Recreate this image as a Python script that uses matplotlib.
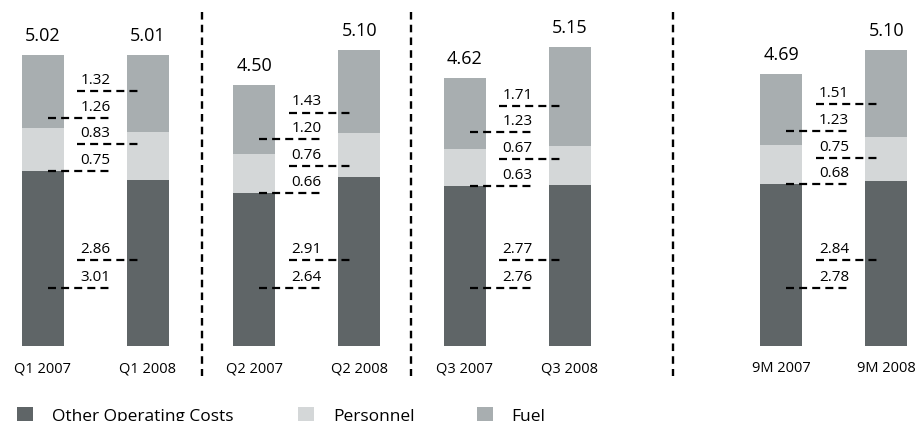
import matplotlib.pyplot as plt
from matplotlib.patches import Rectangle

plt.rcParams['font.family'] = ['Open Sans', 'DejaVu Sans']

# unit costs per period, stacked bottom to top
periods = ['Q1', 'Q2', 'Q3', '9M']
years = ['2007', '2008']
other = [[3.01, 2.86], [2.64, 2.91], [2.76, 2.77], [2.78, 2.84]]
personnel = [[0.75, 0.83], [0.66, 0.76], [0.63, 0.67], [0.68, 0.75]]
fuel = [[1.26, 1.32], [1.20, 1.43], [1.23, 1.71], [1.23, 1.51]]
totals = [[5.02, 5.01], [4.50, 5.10], [4.62, 5.15], [4.69, 5.10]]

c_other = '#5f6567'
c_pers = '#d4d7d8'
c_fuel = '#a8aeb0'

W, H = 920, 421
base = 345.7      # pixel row of the zero line
scale = 58.0      # pixels per unit
group_centers = [95.5, 306.7, 517.5, 834]
half_gap = 52.5
bar_w = 42
separators = [202.5, 411, 673]


def py(p):
    # pixel row (from top) -> data y
    return (base - p) / scale


fig = plt.figure(figsize=(W / 100, H / 100), dpi=100)
ax = fig.add_axes([0, 0, 1, 1])
ax.set_xlim(0, W)
ax.set_ylim(py(H), py(0))
ax.axis('off')

dash = dict(color='black', lw=1.6, dashes=(3.6, 2.3), solid_capstyle='butt',
            dash_capstyle='butt')

for g, gc in enumerate(group_centers):
    xs = [gc - half_gap, gc + half_gap]
    for k in range(2):
        o, p, f = other[g][k], personnel[g][k], fuel[g][k]
        ax.bar(xs[k], o, width=bar_w, color=c_other, lw=0)
        ax.bar(xs[k], p, bottom=o, width=bar_w, color=c_pers, lw=0)
        ax.bar(xs[k], f, bottom=o + p, width=bar_w, color=c_fuel, lw=0)
        ax.annotate(f'{totals[g][k]:.2f}', (xs[k], totals[g][k]),
                    xytext=(0, 10), textcoords='offset points',
                    ha='center', va='baseline', fontsize=13, fontweight=500)
        ax.text(xs[k], py(369), f'{periods[g]} {years[k]}', ha='center',
                va='center', fontsize=10.5, fontweight=500)

    # callout rows: other costs at fixed heights, personnel/fuel stacked
    step = 0.46
    start = other[g][0]
    rows = [
        (start + 3 * step, fuel[g][1], 1),
        (start + 2 * step, fuel[g][0], 0),
        (start + step, personnel[g][1], 1),
        (start, personnel[g][0], 0),
        (1.48, other[g][1], 1),
        (1.0, other[g][0], 0),
    ]
    for y, v, k in rows:
        if k == 0:
            x0, x1 = xs[0] + 5, gc + 14
        else:
            x0, x1 = gc - 18, xs[1] - 9
        ax.plot([x0, x1], [y, y], **dash)
        ax.annotate(f'{v:.2f}', (gc, y), xytext=(0, 2.2),
                    textcoords='offset points', ha='center', va='bottom',
                    fontsize=11, fontweight=500)

for sx in separators:
    ax.plot([sx, sx], [py(12), py(376)], color='black', lw=1.7,
            dashes=(3.2, 2.2))

# legend along the bottom edge
legend = [(17, 52, c_other, 'Other Operating Costs'),
          (298, 333, c_pers, 'Personnel'),
          (477, 511, c_fuel, 'Fuel')]
for sq, tx, col, name in legend:
    ax.add_patch(Rectangle((sq, py(422)), 16, py(407) - py(422), color=col,
                           lw=0))
    ax.text(tx, py(421), name, ha='left', va='baseline', fontsize=12.5,
            fontweight=500)

fig.savefig('out.png', dpi=100)
